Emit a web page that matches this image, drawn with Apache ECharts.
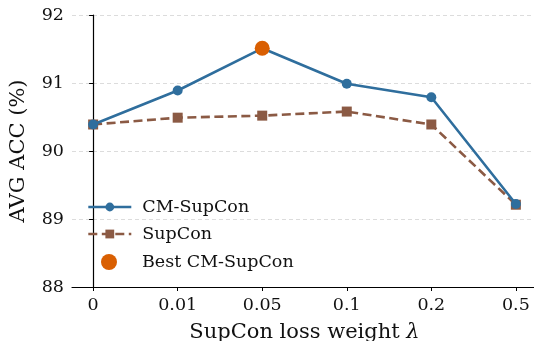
<!DOCTYPE html>
<html><head><meta charset="utf-8">
<script src="https://cdn.jsdelivr.net/npm/echarts@6/dist/echarts.min.js"></script>
<style>html,body{margin:0;padding:0;background:#fff}#c{width:534px;height:341px}</style>
</head><body><div id="c"></div>
<script>
const categories = ['0', '0.01', '0.05', '0.1', '0.2', '0.5'];
const cmSupCon = [90.39, 90.89, 91.51, 90.99, 90.79, 89.22];
const supCon = [90.39, 90.49, 90.52, 90.58, 90.39, 89.21];
const bestIndex = 2;

const FONT = 'DejaVu Serif';
const BLUE = '#2f6e9d', BROWN = '#8b5a44', ORANGE = '#d95f02';
const idx = categories.map((_, i) => i);
const chart = echarts.init(document.getElementById('c'), null, {renderer: 'canvas'});
chart.setOption({
  animation: false,
  backgroundColor: '#fff',
  grid: {left: 72, top: 15, width: 465, height: 272, containLabel: false, outerBoundsMode: 'none'},
  xAxis: {
    type: 'value', min: -0.25, max: 5.25,
    name: '{a|SupCon loss weight }{b|λ}', nameLocation: 'middle', nameGap: 35,
    nameTextStyle: {rich: {
      a: {fontFamily: FONT, fontSize: 21, color: '#111'},
      b: {fontFamily: FONT, fontSize: 21, fontStyle: 'italic', color: '#111'}
    }},
    axisLine: {show: true, lineStyle: {color: '#000', width: 1.2}},
    axisTick: {show: true, length: 4, customValues: idx, lineStyle: {color: '#000', width: 1}},
    axisLabel: {customValues: idx, formatter: v => categories[Math.round(v)], fontFamily: FONT, fontSize: 17.5, color: '#111', margin: 9},
    splitLine: {show: false}
  },
  yAxis: {
    type: 'value', min: 88, max: 92, interval: 1,
    name: 'AVG ACC (%)', nameLocation: 'middle', nameGap: 43,
    nameTextStyle: {fontFamily: FONT, fontSize: 21, color: '#111'},
    axisLine: {show: true, lineStyle: {color: '#000', width: 1.2}},
    axisTick: {show: true, length: 4, lineStyle: {color: '#000', width: 1}},
    axisLabel: {fontFamily: FONT, fontSize: 17.5, color: '#111', margin: 8},
    splitLine: {show: true, lineStyle: {color: '#dcdcdc', type: [4, 3], width: 1}}
  },
  legend: [
    {
      orient: 'vertical', left: 82, top: 193, itemGap: 9, itemWidth: 43, itemHeight: 11,
      lineStyle: {width: 2.6},
      textStyle: {fontFamily: FONT, fontSize: 17.5, color: '#111', padding: [0, 0, 0, 6]},
      data: ['CM-SupCon', 'SupCon']
    },
    {
      orient: 'vertical', left: 96, top: 248, itemWidth: 16, itemHeight: 16,
      textStyle: {fontFamily: FONT, fontSize: 17.5, color: '#111', padding: [0, 0, 0, 20]},
      data: ['Best CM-SupCon']
    }
  ],
  series: [
    {
      name: 'CM-SupCon', type: 'line', data: cmSupCon.map((v, i) => [i, v]),
      symbol: 'circle', symbolSize: 10,
      lineStyle: {color: BLUE, width: 2.6},
      itemStyle: {color: BLUE}, z: 3
    },
    {
      name: 'SupCon', type: 'line', data: supCon.map((v, i) => [i, v]),
      symbol: 'rect', symbolSize: 10,
      lineStyle: {color: BROWN, width: 2.6, type: [9, 4.5]},
      itemStyle: {color: BROWN}, z: 2
    },
    {
      name: 'Best CM-SupCon', type: 'scatter', data: [[bestIndex, cmSupCon[bestIndex]]],
      symbol: 'circle', symbolSize: 15,
      itemStyle: {color: ORANGE, opacity: 1}, z: 5
    }
  ]
});
</script></body></html>
